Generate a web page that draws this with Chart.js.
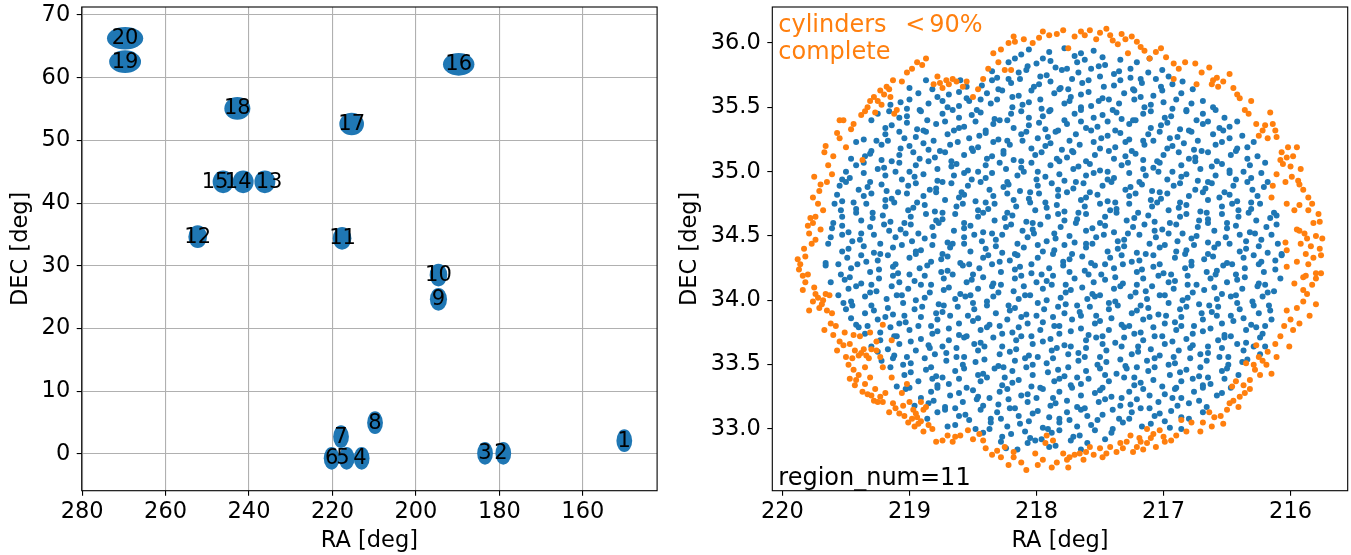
<!DOCTYPE html>
<html>
<head>
<meta charset="utf-8">
<title>Regiones</title>
<script src="https://cdn.jsdelivr.net/npm/chart.js@4.4.1/dist/chart.umd.min.js"></script>
<style>
  html, body { margin: 0; padding: 0; background: #fff; }
  #wrap { position: relative; width: 1351px; height: 555px; }
  canvas { position: absolute; top: 0; }
  #chart-regions { left: 0; }
  #chart-region11 { left: 676px; }
</style>
</head>
<body>
<div id="wrap">
  <canvas id="chart-regions" width="676" height="555"></canvas>
  <canvas id="chart-region11" width="675" height="555"></canvas>
</div>
<script>
const BLUE   = '#1f77b4';
const ORANGE = '#ff7f0e';
const FONT   = "'DejaVu Sans', sans-serif";

// ── Panel izquierdo: centros de las regiones ─────────────────────────────────
const regionNum = [1, 2, 3, 4, 5, 6, 7, 8, 9, 10, 11, 12, 13, 14, 15, 16, 17, 18, 19, 20];
const regionRa  = [150.06, 179.06, 183.44, 213.0, 216.6, 220.2, 217.95, 209.8, 194.6, 194.6,
                   217.7, 252.3, 236.2, 241.4, 246.2, 189.75, 215.4, 242.8, 269.7, 269.7];
const regionDec = [2.12, 0.11, 0.11, -0.69, -0.69, -0.69, 2.76, 4.99, 24.67, 28.54,
                   34.4, 34.65, 43.4, 43.4, 43.4, 62.14, 52.62, 55.1, 62.56, 66.3];
const labelRa   = [150.06, 179.6, 183.44, 213.4, 217.5, 220.2, 217.95, 209.8, 194.6, 194.6,
                   217.6, 252.3, 235.2, 242.6, 248.15, 189.75, 215.4, 242.8, 269.7, 269.7];
const BLOB_RADIUS = 1.65; // deg

const leftRaTicks  = [160, 180, 200, 220, 240, 260, 280];
const leftDecTicks = [0, 10, 20, 30, 40, 50, 60, 70];
const leftRaRange  = [142.2, 280.1];
const leftDecRange = [-5.85, 71.28];

// ── Panel derecho: region_num=11 ─────────────────────────────────────────────
const zoomRaTicks  = [216, 217, 218, 219, 220];
const zoomDecTicks = [33.0, 33.5, 34.0, 34.5, 35.0, 35.5, 36.0];
const zoomRaRange  = [215.55, 220.08];
const zoomDecRange = [32.52, 36.28];

const bluePoints = [
[218.12,35.91],[218.06,35.95],[217.95,35.88],[217.90,35.93],[217.78,35.96],[217.70,35.90],[217.65,35.92],[217.55,35.94],[217.48,35.89],
[218.22,35.85],[218.17,35.88],[218.07,35.82],[218.00,35.84],[217.89,35.86],[217.85,35.81],[217.76,35.80],[217.68,35.85],[217.62,35.87],[217.51,35.82],[217.46,35.83],[217.34,35.87],[217.26,35.80],[217.21,35.85],[217.11,35.88],
[218.35,35.78],[218.31,35.73],[218.22,35.72],[218.14,35.77],[218.08,35.79],[217.97,35.74],[217.92,35.75],[217.80,35.79],[217.72,35.72],[217.67,35.77],[217.57,35.80],[217.50,35.74],[217.39,35.76],[217.35,35.78],[217.26,35.73],[217.18,35.72],[217.12,35.77],[217.01,35.79],[216.96,35.74],
[218.60,35.71],[218.55,35.66],[218.43,35.67],[218.35,35.71],[218.30,35.64],[218.20,35.69],[218.13,35.72],[218.02,35.66],[217.98,35.68],[217.89,35.70],[217.81,35.65],[217.75,35.64],[217.64,35.69],[217.59,35.71],[217.47,35.66],[217.39,35.67],[217.34,35.71],[217.24,35.64],[217.17,35.69],[217.06,35.72],[217.02,35.66],[216.93,35.68],[216.85,35.70],[218.87,35.71],[219.00,35.65],
[219.00,35.56],[218.93,35.61],[218.82,35.64],[218.78,35.58],[218.69,35.60],[218.61,35.62],[218.55,35.57],[218.44,35.56],[218.39,35.61],[218.27,35.63],[218.19,35.58],[218.14,35.59],[218.04,35.63],[217.97,35.56],[217.86,35.61],[217.82,35.64],[217.73,35.58],[217.65,35.60],[217.59,35.62],[217.48,35.57],[217.43,35.56],[217.31,35.61],[217.23,35.63],[217.18,35.58],[217.08,35.59],[217.01,35.63],[216.90,35.56],[216.86,35.61],[216.77,35.64],
[219.15,35.52],[219.07,35.54],[219.02,35.49],[218.92,35.48],[218.85,35.53],[218.74,35.55],[218.70,35.50],[218.61,35.51],[218.53,35.55],[218.47,35.48],[218.36,35.53],[218.31,35.56],[218.19,35.50],[218.11,35.52],[218.06,35.54],[217.96,35.49],[217.89,35.48],[217.78,35.53],[217.74,35.55],[217.65,35.50],[217.57,35.51],[217.51,35.55],[217.40,35.48],[217.35,35.53],[217.23,35.56],[217.15,35.50],[217.10,35.52],[217.00,35.54],[216.93,35.49],[216.82,35.48],[216.78,35.53],[216.69,35.55],[216.61,35.50],
[219.25,35.45],[219.16,35.47],[219.08,35.42],[219.02,35.43],[218.91,35.47],[218.86,35.40],[218.74,35.45],[218.66,35.48],[218.61,35.42],[218.51,35.44],[218.44,35.46],[218.33,35.41],[218.29,35.40],[218.20,35.45],[218.12,35.47],[218.06,35.42],[217.95,35.43],[217.90,35.47],[217.78,35.40],[217.70,35.45],[217.65,35.48],[217.55,35.42],[217.48,35.44],[217.37,35.46],[217.33,35.41],[217.24,35.40],[217.16,35.45],[217.10,35.47],[216.99,35.42],[216.94,35.43],[216.82,35.47],[216.74,35.40],[216.69,35.45],[216.59,35.48],[216.52,35.42],
[219.30,35.40],[219.19,35.34],[219.14,35.36],[219.02,35.38],[218.94,35.33],[218.89,35.32],[218.79,35.37],[218.72,35.39],[218.61,35.34],[218.57,35.35],[218.48,35.39],[218.40,35.32],[218.34,35.37],[218.23,35.40],[218.18,35.34],[218.06,35.36],[217.98,35.38],[217.93,35.33],[217.83,35.32],[217.76,35.37],[217.65,35.39],[217.61,35.34],[217.52,35.35],[217.44,35.39],[217.38,35.32],[217.27,35.37],[217.22,35.40],[217.10,35.34],[217.02,35.36],[216.97,35.38],[216.87,35.33],[216.80,35.32],[216.69,35.37],[216.65,35.39],[216.56,35.34],[216.48,35.35],[216.42,35.39],
[219.36,35.25],[219.26,35.24],[219.19,35.29],[219.08,35.31],[219.04,35.26],[218.95,35.27],[218.87,35.31],[218.81,35.24],[218.70,35.29],[218.65,35.32],[218.53,35.26],[218.45,35.28],[218.40,35.30],[218.30,35.25],[218.23,35.24],[218.12,35.29],[218.08,35.31],[217.99,35.26],[217.91,35.27],[217.85,35.31],[217.74,35.24],[217.69,35.29],[217.57,35.32],[217.49,35.26],[217.44,35.28],[217.34,35.30],[217.27,35.25],[217.16,35.24],[217.12,35.29],[217.03,35.31],[216.95,35.26],[216.89,35.27],[216.78,35.31],[216.73,35.24],[216.61,35.29],[216.53,35.32],[216.48,35.26],[216.38,35.28],
[219.42,35.23],[219.30,35.16],[219.22,35.21],[219.17,35.24],[219.07,35.18],[219.00,35.20],[218.89,35.22],[218.85,35.17],[218.76,35.16],[218.68,35.21],[218.62,35.23],[218.51,35.18],[218.46,35.19],[218.34,35.23],[218.26,35.16],[218.21,35.21],[218.11,35.24],[218.04,35.18],[217.93,35.20],[217.89,35.22],[217.80,35.17],[217.72,35.16],[217.66,35.21],[217.55,35.23],[217.50,35.18],[217.38,35.19],[217.30,35.23],[217.25,35.16],[217.15,35.21],[217.08,35.24],[216.97,35.18],[216.93,35.20],[216.84,35.22],[216.76,35.17],[216.70,35.16],[216.59,35.21],[216.54,35.23],[216.42,35.18],[216.34,35.19],[216.29,35.23],
[219.46,35.10],[219.35,35.12],[219.31,35.14],[219.22,35.09],[219.14,35.08],[219.08,35.13],[218.97,35.15],[218.92,35.10],[218.80,35.11],[218.72,35.15],[218.67,35.08],[218.57,35.13],[218.50,35.16],[218.39,35.10],[218.35,35.12],[218.26,35.14],[218.18,35.09],[218.12,35.08],[218.01,35.13],[217.96,35.15],[217.84,35.10],[217.76,35.11],[217.71,35.15],[217.61,35.08],[217.54,35.13],[217.43,35.16],[217.39,35.10],[217.30,35.12],[217.22,35.14],[217.16,35.09],[217.05,35.08],[217.00,35.13],[216.88,35.15],[216.80,35.10],[216.75,35.11],[216.65,35.15],[216.58,35.08],[216.47,35.13],[216.43,35.16],[216.34,35.10],[216.26,35.12],
[219.50,35.00],[219.42,35.05],[219.36,35.07],[219.25,35.02],[219.20,35.03],[219.08,35.07],[219.00,35.00],[218.95,35.05],[218.85,35.08],[218.78,35.02],[218.67,35.04],[218.63,35.06],[218.54,35.01],[218.46,35.00],[218.40,35.05],[218.29,35.07],[218.24,35.02],[218.12,35.03],[218.04,35.07],[217.99,35.00],[217.89,35.05],[217.82,35.08],[217.71,35.02],[217.67,35.04],[217.58,35.06],[217.50,35.01],[217.44,35.00],[217.33,35.05],[217.28,35.07],[217.16,35.02],[217.08,35.03],[217.03,35.07],[216.93,35.00],[216.86,35.05],[216.75,35.08],[216.71,35.02],[216.62,35.04],[216.54,35.06],[216.48,35.01],[216.37,35.00],[216.32,35.05],[216.20,35.07],
[219.53,34.94],[219.47,34.95],[219.36,34.99],[219.31,34.92],[219.19,34.97],[219.11,35.00],[219.06,34.94],[218.96,34.96],[218.89,34.98],[218.78,34.93],[218.74,34.92],[218.65,34.97],[218.57,34.99],[218.51,34.94],[218.40,34.95],[218.35,34.99],[218.23,34.92],[218.15,34.97],[218.10,35.00],[218.00,34.94],[217.93,34.96],[217.82,34.98],[217.78,34.93],[217.69,34.92],[217.61,34.97],[217.55,34.99],[217.44,34.94],[217.39,34.95],[217.27,34.99],[217.19,34.92],[217.14,34.97],[217.04,35.00],[216.97,34.94],[216.86,34.96],[216.82,34.98],[216.73,34.93],[216.65,34.92],[216.59,34.97],[216.48,34.99],[216.43,34.94],[216.31,34.95],[216.23,34.99],[216.18,34.92],
[219.55,34.89],[219.50,34.92],[219.40,34.86],[219.33,34.88],[219.22,34.90],[219.18,34.85],[219.09,34.84],[219.01,34.89],[218.95,34.91],[218.84,34.86],[218.79,34.87],[218.67,34.91],[218.59,34.84],[218.54,34.89],[218.44,34.92],[218.37,34.86],[218.26,34.88],[218.22,34.90],[218.13,34.85],[218.05,34.84],[217.99,34.89],[217.88,34.91],[217.83,34.86],[217.71,34.87],[217.63,34.91],[217.58,34.84],[217.48,34.89],[217.41,34.92],[217.30,34.86],[217.26,34.88],[217.17,34.90],[217.09,34.85],[217.03,34.84],[216.92,34.89],[216.87,34.91],[216.75,34.86],[216.67,34.87],[216.62,34.91],[216.52,34.84],[216.45,34.89],[216.34,34.92],[216.30,34.86],[216.21,34.88],
[219.57,34.82],[219.53,34.77],[219.44,34.76],[219.36,34.81],[219.30,34.83],[219.19,34.78],[219.14,34.79],[219.02,34.83],[218.94,34.76],[218.89,34.81],[218.79,34.84],[218.72,34.78],[218.61,34.80],[218.57,34.82],[218.48,34.77],[218.40,34.76],[218.34,34.81],[218.23,34.83],[218.18,34.78],[218.06,34.79],[217.98,34.83],[217.93,34.76],[217.83,34.81],[217.76,34.84],[217.65,34.78],[217.61,34.80],[217.52,34.82],[217.44,34.77],[217.38,34.76],[217.27,34.81],[217.22,34.83],[217.10,34.78],[217.02,34.79],[216.97,34.83],[216.87,34.76],[216.80,34.81],[216.69,34.84],[216.65,34.78],[216.56,34.80],[216.48,34.82],[216.42,34.77],[216.31,34.76],[216.26,34.81],
[219.59,34.75],[219.54,34.70],[219.42,34.71],[219.34,34.75],[219.29,34.68],[219.19,34.73],[219.12,34.76],[219.01,34.70],[218.97,34.72],[218.88,34.74],[218.80,34.69],[218.74,34.68],[218.63,34.73],[218.58,34.75],[218.46,34.70],[218.38,34.71],[218.33,34.75],[218.23,34.68],[218.16,34.73],[218.05,34.76],[218.01,34.70],[217.92,34.72],[217.84,34.74],[217.78,34.69],[217.67,34.68],[217.62,34.73],[217.50,34.75],[217.42,34.70],[217.37,34.71],[217.27,34.75],[217.20,34.68],[217.09,34.73],[217.05,34.76],[216.96,34.70],[216.88,34.72],[216.82,34.74],[216.71,34.69],[216.66,34.68],[216.54,34.73],[216.46,34.75],[216.41,34.70],[216.31,34.71],[216.24,34.75],[216.13,34.68],
[219.60,34.60],[219.53,34.65],[219.42,34.68],[219.38,34.62],[219.29,34.64],[219.21,34.66],[219.15,34.61],[219.04,34.60],[218.99,34.65],[218.87,34.67],[218.79,34.62],[218.74,34.63],[218.64,34.67],[218.57,34.60],[218.46,34.65],[218.42,34.68],[218.33,34.62],[218.25,34.64],[218.19,34.66],[218.08,34.61],[218.03,34.60],[217.91,34.65],[217.83,34.67],[217.78,34.62],[217.68,34.63],[217.61,34.67],[217.50,34.60],[217.46,34.65],[217.37,34.68],[217.29,34.62],[217.23,34.64],[217.12,34.66],[217.07,34.61],[216.95,34.60],[216.87,34.65],[216.82,34.67],[216.72,34.62],[216.65,34.63],[216.54,34.67],[216.50,34.60],[216.41,34.65],[216.33,34.68],[216.27,34.62],[216.16,34.64],[216.11,34.66],
[219.61,34.56],[219.53,34.58],[219.48,34.53],[219.38,34.52],[219.31,34.57],[219.20,34.59],[219.16,34.54],[219.07,34.55],[218.99,34.59],[218.93,34.52],[218.82,34.57],[218.77,34.60],[218.65,34.54],[218.57,34.56],[218.52,34.58],[218.42,34.53],[218.35,34.52],[218.24,34.57],[218.20,34.59],[218.11,34.54],[218.03,34.55],[217.97,34.59],[217.86,34.52],[217.81,34.57],[217.69,34.60],[217.61,34.54],[217.56,34.56],[217.46,34.58],[217.39,34.53],[217.28,34.52],[217.24,34.57],[217.15,34.59],[217.07,34.54],[217.01,34.55],[216.90,34.59],[216.85,34.52],[216.73,34.57],[216.65,34.60],[216.60,34.54],[216.50,34.56],[216.43,34.58],[216.32,34.53],[216.28,34.52],[216.19,34.57],[216.11,34.59],
[219.62,34.49],[219.53,34.51],[219.45,34.46],[219.39,34.47],[219.28,34.51],[219.23,34.44],[219.11,34.49],[219.03,34.52],[218.98,34.46],[218.88,34.48],[218.81,34.50],[218.70,34.45],[218.66,34.44],[218.57,34.49],[218.49,34.51],[218.43,34.46],[218.32,34.47],[218.27,34.51],[218.15,34.44],[218.07,34.49],[218.02,34.52],[217.92,34.46],[217.85,34.48],[217.74,34.50],[217.70,34.45],[217.61,34.44],[217.53,34.49],[217.47,34.51],[217.36,34.46],[217.31,34.47],[217.19,34.51],[217.11,34.44],[217.06,34.49],[216.96,34.52],[216.89,34.46],[216.78,34.48],[216.74,34.50],[216.65,34.45],[216.57,34.44],[216.51,34.49],[216.40,34.51],[216.35,34.46],[216.23,34.47],[216.15,34.51],[216.10,34.44],
[219.64,34.44],[219.53,34.38],[219.48,34.40],[219.36,34.42],[219.28,34.37],[219.23,34.36],[219.13,34.41],[219.06,34.43],[218.95,34.38],[218.91,34.39],[218.82,34.43],[218.74,34.36],[218.68,34.41],[218.57,34.44],[218.52,34.38],[218.40,34.40],[218.32,34.42],[218.27,34.37],[218.17,34.36],[218.10,34.41],[217.99,34.43],[217.95,34.38],[217.86,34.39],[217.78,34.43],[217.72,34.36],[217.61,34.41],[217.56,34.44],[217.44,34.38],[217.36,34.40],[217.31,34.42],[217.21,34.37],[217.14,34.36],[217.03,34.41],[216.99,34.43],[216.90,34.38],[216.82,34.39],[216.76,34.43],[216.65,34.36],[216.60,34.41],[216.48,34.44],[216.40,34.38],[216.35,34.40],[216.25,34.42],[216.18,34.37],[216.07,34.36],
[219.66,34.29],[219.56,34.28],[219.49,34.33],[219.38,34.35],[219.34,34.30],[219.25,34.31],[219.17,34.35],[219.11,34.28],[219.00,34.33],[218.95,34.36],[218.83,34.30],[218.75,34.32],[218.70,34.34],[218.60,34.29],[218.53,34.28],[218.42,34.33],[218.38,34.35],[218.29,34.30],[218.21,34.31],[218.15,34.35],[218.04,34.28],[217.99,34.33],[217.87,34.36],[217.79,34.30],[217.74,34.32],[217.64,34.34],[217.57,34.29],[217.46,34.28],[217.42,34.33],[217.33,34.35],[217.25,34.30],[217.19,34.31],[217.08,34.35],[217.03,34.28],[216.91,34.33],[216.83,34.36],[216.78,34.30],[216.68,34.32],[216.61,34.34],[216.50,34.29],[216.46,34.28],[216.37,34.33],[216.29,34.35],[216.23,34.30],[216.12,34.31],[216.07,34.35],
[219.66,34.27],[219.54,34.20],[219.46,34.25],[219.41,34.28],[219.31,34.22],[219.24,34.24],[219.13,34.26],[219.09,34.21],[219.00,34.20],[218.92,34.25],[218.86,34.27],[218.75,34.22],[218.70,34.23],[218.58,34.27],[218.50,34.20],[218.45,34.25],[218.35,34.28],[218.28,34.22],[218.17,34.24],[218.13,34.26],[218.04,34.21],[217.96,34.20],[217.90,34.25],[217.79,34.27],[217.74,34.22],[217.62,34.23],[217.54,34.27],[217.49,34.20],[217.39,34.25],[217.32,34.28],[217.21,34.22],[217.17,34.24],[217.08,34.26],[217.00,34.21],[216.94,34.20],[216.83,34.25],[216.78,34.27],[216.66,34.22],[216.58,34.23],[216.53,34.27],[216.43,34.20],[216.36,34.25],[216.25,34.28],[216.21,34.22],[216.12,34.24],
[219.62,34.14],[219.51,34.16],[219.47,34.18],[219.38,34.13],[219.30,34.12],[219.24,34.17],[219.13,34.19],[219.08,34.14],[218.96,34.15],[218.88,34.19],[218.83,34.12],[218.73,34.17],[218.66,34.20],[218.55,34.14],[218.51,34.16],[218.42,34.18],[218.34,34.13],[218.28,34.12],[218.17,34.17],[218.12,34.19],[218.00,34.14],[217.92,34.15],[217.87,34.19],[217.77,34.12],[217.70,34.17],[217.59,34.20],[217.55,34.14],[217.46,34.16],[217.38,34.18],[217.32,34.13],[217.21,34.12],[217.16,34.17],[217.04,34.19],[216.96,34.14],[216.91,34.15],[216.81,34.19],[216.74,34.12],[216.63,34.17],[216.59,34.20],[216.50,34.14],[216.42,34.16],[216.36,34.18],[216.25,34.13],[216.20,34.12],[216.08,34.17],
[219.56,34.04],[219.48,34.09],[219.42,34.11],[219.31,34.06],[219.26,34.07],[219.14,34.11],[219.06,34.04],[219.01,34.09],[218.91,34.12],[218.84,34.06],[218.73,34.08],[218.69,34.10],[218.60,34.05],[218.52,34.04],[218.46,34.09],[218.35,34.11],[218.30,34.06],[218.18,34.07],[218.10,34.11],[218.05,34.04],[217.95,34.09],[217.88,34.12],[217.77,34.06],[217.73,34.08],[217.64,34.10],[217.56,34.05],[217.50,34.04],[217.39,34.09],[217.34,34.11],[217.22,34.06],[217.14,34.07],[217.09,34.11],[216.99,34.04],[216.92,34.09],[216.81,34.12],[216.77,34.06],[216.68,34.08],[216.60,34.10],[216.54,34.05],[216.43,34.04],[216.38,34.09],[216.26,34.11],[216.18,34.06],[216.13,34.07],
[219.52,33.98],[219.46,33.99],[219.35,34.03],[219.30,33.96],[219.18,34.01],[219.10,34.04],[219.05,33.98],[218.95,34.00],[218.88,34.02],[218.77,33.97],[218.73,33.96],[218.64,34.01],[218.56,34.03],[218.50,33.98],[218.39,33.99],[218.34,34.03],[218.22,33.96],[218.14,34.01],[218.09,34.04],[217.99,33.98],[217.92,34.00],[217.81,34.02],[217.77,33.97],[217.68,33.96],[217.60,34.01],[217.54,34.03],[217.43,33.98],[217.38,33.99],[217.26,34.03],[217.18,33.96],[217.13,34.01],[217.03,34.04],[216.96,33.98],[216.85,34.00],[216.81,34.02],[216.72,33.97],[216.64,33.96],[216.58,34.01],[216.47,34.03],[216.42,33.98],[216.30,33.99],[216.22,34.03],[216.17,33.96],
[219.50,33.93],[219.45,33.96],[219.35,33.90],[219.28,33.92],[219.17,33.94],[219.13,33.89],[219.04,33.88],[218.96,33.93],[218.90,33.95],[218.79,33.90],[218.74,33.91],[218.62,33.95],[218.54,33.88],[218.49,33.93],[218.39,33.96],[218.32,33.90],[218.21,33.92],[218.17,33.94],[218.08,33.89],[218.00,33.88],[217.94,33.93],[217.83,33.95],[217.78,33.90],[217.66,33.91],[217.58,33.95],[217.53,33.88],[217.43,33.93],[217.36,33.96],[217.25,33.90],[217.21,33.92],[217.12,33.94],[217.04,33.89],[216.98,33.88],[216.87,33.93],[216.82,33.95],[216.70,33.90],[216.62,33.91],[216.57,33.95],[216.47,33.88],[216.40,33.93],[216.29,33.96],[216.25,33.90],[216.16,33.92],
[219.46,33.86],[219.42,33.81],[219.33,33.80],[219.25,33.85],[219.19,33.87],[219.08,33.82],[219.03,33.83],[218.91,33.87],[218.83,33.80],[218.78,33.85],[218.68,33.88],[218.61,33.82],[218.50,33.84],[218.46,33.86],[218.37,33.81],[218.29,33.80],[218.23,33.85],[218.12,33.87],[218.07,33.82],[217.95,33.83],[217.87,33.87],[217.82,33.80],[217.72,33.85],[217.65,33.88],[217.54,33.82],[217.50,33.84],[217.41,33.86],[217.33,33.81],[217.27,33.80],[217.16,33.85],[217.11,33.87],[216.99,33.82],[216.91,33.83],[216.86,33.87],[216.76,33.80],[216.69,33.85],[216.58,33.88],[216.54,33.82],[216.45,33.84],[216.37,33.86],[216.31,33.81],[216.20,33.80],[216.15,33.85],
[219.40,33.79],[219.35,33.74],[219.23,33.75],[219.15,33.79],[219.10,33.72],[219.00,33.77],[218.93,33.80],[218.82,33.74],[218.78,33.76],[218.69,33.78],[218.61,33.73],[218.55,33.72],[218.44,33.77],[218.39,33.79],[218.27,33.74],[218.19,33.75],[218.14,33.79],[218.04,33.72],[217.97,33.77],[217.86,33.80],[217.82,33.74],[217.73,33.76],[217.65,33.78],[217.59,33.73],[217.48,33.72],[217.43,33.77],[217.31,33.79],[217.23,33.74],[217.18,33.75],[217.08,33.79],[217.01,33.72],[216.90,33.77],[216.86,33.80],[216.77,33.74],[216.69,33.76],[216.63,33.78],[216.52,33.73],[216.47,33.72],[216.35,33.77],[216.27,33.79],[216.22,33.74],
[219.30,33.64],[219.23,33.69],[219.12,33.72],[219.08,33.66],[218.99,33.68],[218.91,33.70],[218.85,33.65],[218.74,33.64],[218.69,33.69],[218.57,33.71],[218.49,33.66],[218.44,33.67],[218.34,33.71],[218.27,33.64],[218.16,33.69],[218.12,33.72],[218.03,33.66],[217.95,33.68],[217.89,33.70],[217.78,33.65],[217.73,33.64],[217.61,33.69],[217.53,33.71],[217.48,33.66],[217.38,33.67],[217.31,33.71],[217.20,33.64],[217.16,33.69],[217.07,33.72],[216.99,33.66],[216.93,33.68],[216.82,33.70],[216.77,33.65],[216.65,33.64],[216.57,33.69],[216.52,33.71],[216.42,33.66],[216.35,33.67],[216.24,33.71],[216.20,33.64],
[219.25,33.60],[219.17,33.62],[219.12,33.57],[219.02,33.56],[218.95,33.61],[218.84,33.63],[218.80,33.58],[218.71,33.59],[218.63,33.63],[218.57,33.56],[218.46,33.61],[218.41,33.64],[218.29,33.58],[218.21,33.60],[218.16,33.62],[218.06,33.57],[217.99,33.56],[217.88,33.61],[217.84,33.63],[217.75,33.58],[217.67,33.59],[217.61,33.63],[217.50,33.56],[217.45,33.61],[217.33,33.64],[217.25,33.58],[217.20,33.60],[217.10,33.62],[217.03,33.57],[216.92,33.56],[216.88,33.61],[216.79,33.63],[216.71,33.58],[216.65,33.59],[216.54,33.63],[216.49,33.56],[216.37,33.61],[216.29,33.64],[216.24,33.58],
[219.22,33.53],[219.13,33.55],[219.05,33.50],[218.99,33.51],[218.88,33.55],[218.83,33.48],[218.71,33.53],[218.63,33.56],[218.58,33.50],[218.48,33.52],[218.41,33.54],[218.30,33.49],[218.26,33.48],[218.17,33.53],[218.09,33.55],[218.03,33.50],[217.92,33.51],[217.87,33.55],[217.75,33.48],[217.67,33.53],[217.62,33.56],[217.52,33.50],[217.45,33.52],[217.34,33.54],[217.30,33.49],[217.21,33.48],[217.13,33.53],[217.07,33.55],[216.96,33.50],[216.91,33.51],[216.79,33.55],[216.71,33.48],[216.66,33.53],[216.56,33.56],[216.49,33.50],[216.38,33.52],[216.34,33.54],
[219.15,33.48],[219.04,33.42],[218.99,33.44],[218.87,33.46],[218.79,33.41],[218.74,33.40],[218.64,33.45],[218.57,33.47],[218.46,33.42],[218.42,33.43],[218.33,33.47],[218.25,33.40],[218.19,33.45],[218.08,33.48],[218.03,33.42],[217.91,33.44],[217.83,33.46],[217.78,33.41],[217.68,33.40],[217.61,33.45],[217.50,33.47],[217.46,33.42],[217.37,33.43],[217.29,33.47],[217.23,33.40],[217.12,33.45],[217.07,33.48],[216.95,33.42],[216.87,33.44],[216.82,33.46],[216.72,33.41],[216.65,33.40],[216.54,33.45],[216.50,33.47],[216.41,33.42],
[219.10,33.33],[219.00,33.32],[218.93,33.37],[218.82,33.39],[218.78,33.34],[218.69,33.35],[218.61,33.39],[218.55,33.32],[218.44,33.37],[218.39,33.40],[218.27,33.34],[218.19,33.36],[218.14,33.38],[218.04,33.33],[217.97,33.32],[217.86,33.37],[217.82,33.39],[217.73,33.34],[217.65,33.35],[217.59,33.39],[217.48,33.32],[217.43,33.37],[217.31,33.40],[217.23,33.34],[217.18,33.36],[217.08,33.38],[217.01,33.33],[216.90,33.32],[216.86,33.37],[216.77,33.39],[216.69,33.34],[216.63,33.35],[216.52,33.39],[216.47,33.32],
[219.03,33.31],[218.91,33.24],[218.83,33.29],[218.78,33.32],[218.68,33.26],[218.61,33.28],[218.50,33.30],[218.46,33.25],[218.37,33.24],[218.29,33.29],[218.23,33.31],[218.12,33.26],[218.07,33.27],[217.95,33.31],[217.87,33.24],[217.82,33.29],[217.72,33.32],[217.65,33.26],[217.54,33.28],[217.50,33.30],[217.41,33.25],[217.33,33.24],[217.27,33.29],[217.16,33.31],[217.11,33.26],[216.99,33.27],[216.91,33.31],[216.86,33.24],[216.76,33.29],[216.69,33.32],[216.58,33.26],[216.54,33.28],
[218.96,33.18],[218.85,33.20],[218.81,33.22],[218.72,33.17],[218.64,33.16],[218.58,33.21],[218.47,33.23],[218.42,33.18],[218.30,33.19],[218.22,33.23],[218.17,33.16],[218.07,33.21],[218.00,33.24],[217.89,33.18],[217.85,33.20],[217.76,33.22],[217.68,33.17],[217.62,33.16],[217.51,33.21],[217.46,33.23],[217.34,33.18],[217.26,33.19],[217.21,33.23],[217.11,33.16],[217.04,33.21],[216.93,33.24],[216.89,33.18],[216.80,33.20],[216.72,33.22],[216.66,33.17],
[218.86,33.08],[218.78,33.13],[218.72,33.15],[218.61,33.10],[218.56,33.11],[218.44,33.15],[218.36,33.08],[218.31,33.13],[218.21,33.16],[218.14,33.10],[218.03,33.12],[217.99,33.14],[217.90,33.09],[217.82,33.08],[217.76,33.13],[217.65,33.15],[217.60,33.10],[217.48,33.11],[217.40,33.15],[217.35,33.08],[217.25,33.13],[217.18,33.16],[217.07,33.10],[217.03,33.12],[216.94,33.14],[216.86,33.09],[216.80,33.08],[216.69,33.13],
[218.70,33.02],[218.64,33.03],[218.53,33.07],[218.48,33.00],[218.36,33.05],[218.28,33.08],[218.23,33.02],[218.13,33.04],[218.06,33.06],[217.95,33.01],[217.91,33.00],[217.82,33.05],[217.74,33.07],[217.68,33.02],[217.57,33.03],[217.52,33.07],[217.40,33.00],[217.32,33.05],[217.27,33.08],[217.17,33.02],[217.10,33.04],[216.99,33.06],[216.95,33.01],[216.86,33.00],
[218.42,32.97],[218.37,33.00],[218.27,32.94],[218.20,32.96],[218.09,32.98],[218.05,32.93],[217.96,32.92],[217.88,32.97],[217.82,32.99],[217.71,32.94],[217.66,32.95],[217.54,32.99],[217.46,32.92],[217.41,32.97],
[218.28,32.90],[218.24,32.85],[218.15,32.84],[218.07,32.89],[218.01,32.91],[217.90,32.86],[217.85,32.87],[217.73,32.91],[217.65,32.84],[217.60,32.89]
];

const orangePoints = [
[219.88,34.32],[219.82,34.34],[219.86,34.28],[219.78,34.64],[219.76,34.60],[219.80,34.58],[219.79,34.52],[219.77,34.44],[219.74,34.47],[219.70,34.55],[219.68,34.70],[219.71,34.85],
[219.76,34.80],[219.75,34.96],[219.67,35.15],[219.66,35.20],[219.65,34.92],[219.61,34.98],[219.57,35.30],[219.55,35.26],[219.55,35.40],[219.52,35.40],[219.50,35.19],[219.44,35.37],
[219.38,35.44],[219.37,35.09],[219.33,35.50],[219.27,35.46],[219.31,35.55],[219.28,35.58],[219.23,35.63],[219.20,35.60],[219.15,35.58],[219.22,35.52],[219.12,35.45],[219.18,35.66],
[219.13,35.71],[219.10,35.48],[219.02,35.77],[218.94,35.85],[218.87,35.88],[218.81,35.68],[218.78,35.74],[218.74,35.65],[218.71,35.71],[218.69,35.68],[218.66,35.72],[218.63,35.70],
[218.58,35.66],[218.50,35.58],[218.42,35.72],[218.34,35.92],[218.25,35.79],[218.20,35.79],[218.22,36.00],[218.18,36.05],
[219.46,35.33],[219.35,35.47],[219.25,35.55],[219.16,35.64],[219.06,35.70],[218.98,35.80],[218.90,35.83],[218.76,35.69],[218.55,35.70],[218.46,35.64],[218.38,35.80],[218.30,35.85],
[218.28,35.95],[219.60,35.12],[219.64,35.05],[219.70,34.90],[219.72,34.75],[219.74,34.65],[219.83,34.40],
[218.17,36.01],[218.03,36.00],[217.95,36.09],[217.90,36.06],[217.79,36.10],[217.75,35.96],[217.65,36.09],[217.62,36.06],[217.58,36.10],[217.53,36.03],[217.50,36.08],[217.45,36.11],
[217.40,36.02],[217.36,35.99],[217.33,36.07],[217.30,36.03],[217.28,35.92],[217.25,36.05],[217.21,36.01],[217.15,35.94],[217.11,35.88],[217.02,35.96],[216.98,35.89],[216.92,35.84],
[216.92,35.72],[216.83,35.85],[216.75,35.84],[216.74,35.68],[216.64,35.81],[216.62,35.68],[216.61,35.71],[216.58,35.73],[216.57,35.66],[216.48,35.76],[216.45,35.65],[216.40,35.57],
[216.36,35.48],[216.31,35.55],[216.27,35.37],[216.25,35.28],[216.22,35.32],[216.20,35.36],[216.16,35.46],[216.14,35.37],[216.12,35.32],[216.11,35.27],[216.18,35.26],[216.02,35.19],
[218.10,36.03],[217.98,36.04],[217.84,36.07],[217.70,36.05],[217.42,36.06],[217.18,35.97],[217.06,35.93],[216.88,35.80],[216.70,35.77],[216.53,35.70],[216.42,35.60],[216.33,35.45],
[215.95,35.19],[216.08,35.09],[216.06,35.06],[216.03,35.11],[215.98,35.12],[216.00,35.04],[215.99,34.96],[216.11,34.98],[215.94,34.93],[216.04,34.92],[215.93,34.90],[216.14,34.89],
[215.90,34.86],[216.15,34.80],[216.03,34.75],[215.93,34.74],[215.97,34.70],[215.86,34.70],[215.83,34.75],[215.78,34.67],[215.95,34.55],[215.93,34.54],[215.89,34.52],[215.87,34.48],
[215.92,34.44],[215.77,34.61],[215.75,34.48],[216.04,34.45],[216.03,34.39],[215.88,34.36],[215.77,34.40],[215.76,34.35],[215.82,34.33],[215.86,34.28],[216.03,34.26],[215.90,34.18],
[216.07,35.15],[215.92,35.02],[215.86,34.80],[215.82,34.60],[215.80,34.50],[215.84,34.42],[215.95,34.30],[215.83,34.12],[215.90,34.08],[216.05,33.80],[216.12,33.66],[216.18,33.60],
[216.24,33.42],[216.36,33.28],[216.45,33.22],[216.55,33.10],[216.62,33.02],
[215.80,34.21],[215.76,34.21],[215.80,34.17],[215.88,34.19],[215.97,34.13],[215.87,34.05],[215.80,33.97],[215.90,33.99],[215.95,33.94],[215.85,33.88],[215.93,33.82],[216.03,33.92],
[216.00,33.85],[215.98,33.77],[216.08,33.72],[216.01,33.64],[216.11,33.56],[216.27,33.65],[216.25,33.56],[216.22,33.53],[216.19,33.50],[216.29,33.50],[216.28,33.46],[216.35,33.51],
[216.15,33.43],[216.32,33.38],[216.37,33.34],[216.43,33.37],[216.46,33.33],[216.32,33.31],[216.40,33.25],[216.48,33.20],[216.50,33.15],[216.41,33.17],[216.53,33.04],[216.60,33.09],
[216.64,33.13],[216.69,33.05],[216.71,32.98],[216.78,33.05],[216.86,33.07],[216.90,32.95],[216.94,32.91],[216.99,32.90],[217.03,32.99],[217.08,32.96],[217.06,32.86],[217.10,32.93],
[217.13,33.00],[217.13,32.89],[217.16,32.84],[217.19,32.93],[217.21,32.86],[217.26,32.95],[217.24,32.82],[217.29,32.90],[217.34,32.89],[217.37,32.82],[217.42,32.86],[217.45,32.81],
[217.50,32.85],[217.55,32.80],[217.58,32.86],[217.61,32.82],[217.66,32.81],[217.74,32.78],[217.75,32.70],[217.76,32.76],[217.79,32.81],[217.87,32.91],[217.88,32.70],[217.92,32.95],
[217.93,32.89],[217.95,32.76],[218.01,32.81],[218.08,32.68],[218.18,32.78],
[216.82,32.98],[217.00,32.94],[217.18,32.90],[217.32,32.85],[217.48,32.78],[217.63,32.76],[217.70,32.80],[217.84,32.74],[217.99,32.72],[218.12,32.74],[218.28,32.78],[218.40,32.85],
[218.50,32.92],[218.60,32.95],[218.70,32.95],
[219.84,34.19],[219.82,34.14],[219.84,34.08],[219.75,34.10],[219.79,33.92],[219.76,33.99],[219.72,34.02],[219.69,33.97],[219.66,34.05],[219.68,34.00],[219.71,33.94],[219.65,33.92],
[219.61,33.90],[219.63,34.04],[219.67,33.77],[219.60,33.73],[219.57,33.61],[219.52,33.65],[219.51,33.75],[219.47,33.66],[219.50,33.56],[219.45,33.55],[219.44,33.73],[219.43,33.61],
[219.40,33.57],[219.39,33.72],[219.38,33.59],[219.36,33.62],[219.34,33.57],[219.32,33.55],[219.31,33.75],[219.30,33.62],[219.26,33.61],[219.23,33.56],[219.26,33.68],[219.21,33.81],
[219.14,33.69],[219.44,33.46],[219.47,33.39],[219.42,33.38],[219.35,33.48],[219.31,33.40],[219.43,33.34],[219.37,33.29],[219.33,33.27],[219.30,33.26],[219.28,33.22],[219.27,33.31],
[219.23,33.25],[219.21,33.21],[219.25,33.21],[219.14,33.40],[219.13,33.20],[219.16,33.13],[219.06,33.28],[219.05,33.18],[219.08,33.12],[219.01,33.05],[219.00,33.21],[218.98,33.08],
[218.97,33.15],[218.95,33.12],[218.94,33.09],[218.93,33.04],[218.91,33.06],[218.89,33.15],[218.91,33.21],[218.87,33.17],[218.85,33.03],[218.89,32.98],[219.02,33.35],[219.21,33.48],
[218.79,32.90],[218.74,32.91],[218.66,32.90],[218.64,32.94],[218.54,32.99],[218.45,32.96],[218.42,32.91],[218.35,32.80],[218.31,32.83],[218.25,32.86],[218.22,32.72],[218.18,32.82],
[218.82,33.00],[218.96,33.02],[219.04,33.10],[219.11,33.16],[219.19,33.28],[219.35,33.35],[219.40,33.42],[219.48,33.50],[219.55,33.68],[219.58,33.80],[219.62,33.82],[219.74,34.05],
[219.80,34.20],[219.87,34.24]
];

// ── Estilo / helpers ────────────────────────────────────────────────────────
Chart.defaults.font.family = FONT;
Chart.defaults.font.size   = 22.5;
Chart.defaults.color       = '#000';

function _fitWidth(w) {
  return scale => { scale.width = w; scale.paddingTop = 0; scale.paddingBottom = 0; };
}

function _fitHeight(h) {
  return scale => { scale.height = h; scale.paddingLeft = 0; scale.paddingRight = 0; };
}

function _axis(o) {
  return {
    type: 'linear',
    reverse: !!o.reverse,
    min: o.range[0],
    max: o.range[1],
    afterBuildTicks: ax => { ax.ticks = o.ticks.map(v => ({ value: v })); },
    afterFit: o.fit,
    ticks: { autoSkip: false, maxRotation: 0, padding: o.pad, callback: o.format },
    grid: {
      drawOnChartArea: o.grid, color: '#b0b0b0', lineWidth: 1.1,
      tickLength: 5, tickColor: '#000', tickWidth: 1.1
    },
    border: { display: false },
    title: { display: true, text: o.title, padding: o.titlePad }
  };
}

const framePlugin = {
  id: 'frame',
  afterDraw(chart) {
    const { ctx, chartArea: a } = chart;
    ctx.save();
    ctx.strokeStyle = '#000';
    ctx.lineWidth = 1.1;
    ctx.strokeRect(a.left, a.top, a.right - a.left, a.bottom - a.top);
    ctx.restore();
  }
};

// manchas elípticas (radio fijo en el cielo, ensanchado en RA por 1/cos(dec))
const blobPlugin = {
  id: 'blobs',
  beforeDatasetsDraw(chart) {
    const { ctx, chartArea: a, scales: { x, y } } = chart;
    ctx.save();
    ctx.beginPath();
    ctx.rect(a.left, a.top, a.right - a.left, a.bottom - a.top);
    ctx.clip();
    ctx.fillStyle = BLUE;
    regionRa.forEach((ra, i) => {
      const dec = regionDec[i];
      const cx = x.getPixelForValue(ra);
      const cy = y.getPixelForValue(dec);
      const rx = Math.abs(x.getPixelForValue(ra + BLOB_RADIUS / Math.cos(dec * Math.PI / 180)) - cx) + 1;
      const ry = Math.abs(y.getPixelForValue(dec + BLOB_RADIUS) - cy) + 1;
      ctx.beginPath();
      ctx.ellipse(cx, cy, rx, ry, 0, 0, Math.PI * 2);
      ctx.fill();
    });
    ctx.restore();
  },
  afterDatasetsDraw(chart) {
    const { ctx, scales: { x, y } } = chart;
    ctx.save();
    ctx.font = '21px ' + FONT;
    ctx.fillStyle = '#000';
    ctx.textAlign = 'center';
    ctx.textBaseline = 'middle';
    regionNum.forEach((n, i) => {
      ctx.fillText(String(n), x.getPixelForValue(labelRa[i]), y.getPixelForValue(regionDec[i]) + 0.5);
    });
    ctx.restore();
  }
};

const notePlugin = {
  id: 'notes',
  afterDraw(chart) {
    const { ctx, chartArea: a } = chart;
    ctx.save();
    ctx.font = '24px ' + FONT;
    ctx.textAlign = 'left';
    ctx.textBaseline = 'alphabetic';
    ctx.fillStyle = ORANGE;
    ctx.fillText('cylinders', a.left + 6, a.top + 25);
    ctx.fillText('<', a.left + 133, a.top + 25);
    ctx.fillText('90%', a.left + 157, a.top + 25);
    ctx.fillText('complete', a.left + 6, a.top + 52);
    ctx.fillStyle = '#000';
    ctx.fillText('region_num=11', a.left + 6, a.bottom - 6);
    ctx.restore();
  }
};

const baseOptions = {
  responsive: false,
  animation: false,
  devicePixelRatio: 1,
  events: [],
  plugins: { legend: { display: false }, tooltip: { enabled: false } }
};

// ── Panel izquierdo ─────────────────────────────────────────────────────────
new Chart(document.getElementById('chart-regions'), {
  type: 'scatter',
  data: {
    datasets: [{
      data: regionRa.map((ra, i) => ({ x: ra, y: regionDec[i] })),
      pointRadius: 0,
      pointHoverRadius: 0
    }]
  },
  options: Object.assign({}, baseOptions, {
    layout: { padding: { top: 7, right: 18.9, left: 0, bottom: 0 } },
    scales: {
      x: _axis({ range: leftRaRange, reverse: true, ticks: leftRaTicks, fit: _fitHeight(64.3),
                 pad: 2.8, format: v => String(v), grid: true, title: 'RA [deg]',
                 titlePad: { top: 0, bottom: 0.5 } }),
      y: _axis({ range: leftDecRange, ticks: leftDecTicks, fit: _fitWidth(81.7),
                 pad: 6.5, format: v => String(v), grid: true, title: 'DEC [deg]',
                 titlePad: { top: 7.5, bottom: 0 } })
    }
  }),
  plugins: [blobPlugin, framePlugin]
});

// ── Panel derecho ───────────────────────────────────────────────────────────
new Chart(document.getElementById('chart-region11'), {
  type: 'scatter',
  data: {
    datasets: [
      {
        data: bluePoints.map(p => ({ x: p[0], y: p[1] })),
        backgroundColor: BLUE, pointRadius: 3, pointHoverRadius: 3,
        pointBorderWidth: 0, order: 1
      },
      {
        data: orangePoints.map(p => ({ x: p[0], y: p[1] })),
        backgroundColor: ORANGE, pointRadius: 3, pointHoverRadius: 3,
        pointBorderWidth: 0, order: 0
      }
    ]
  },
  options: Object.assign({}, baseOptions, {
    layout: { padding: { top: 7, right: 3.3, left: 0, bottom: 0 } },
    scales: {
      x: _axis({ range: zoomRaRange, reverse: true, ticks: zoomRaTicks, fit: _fitHeight(64.3),
                 pad: 2.8, format: v => String(v), grid: false, title: 'RA [deg]',
                 titlePad: { top: 0, bottom: 0.5 } }),
      y: _axis({ range: zoomDecRange, ticks: zoomDecTicks, fit: _fitWidth(96.3),
                 pad: 6.5, format: v => v.toFixed(1), grid: false, title: 'DEC [deg]',
                 titlePad: { top: 1, bottom: 0 } })
    }
  }),
  plugins: [notePlugin, framePlugin]
});
</script>
</body>
</html>
